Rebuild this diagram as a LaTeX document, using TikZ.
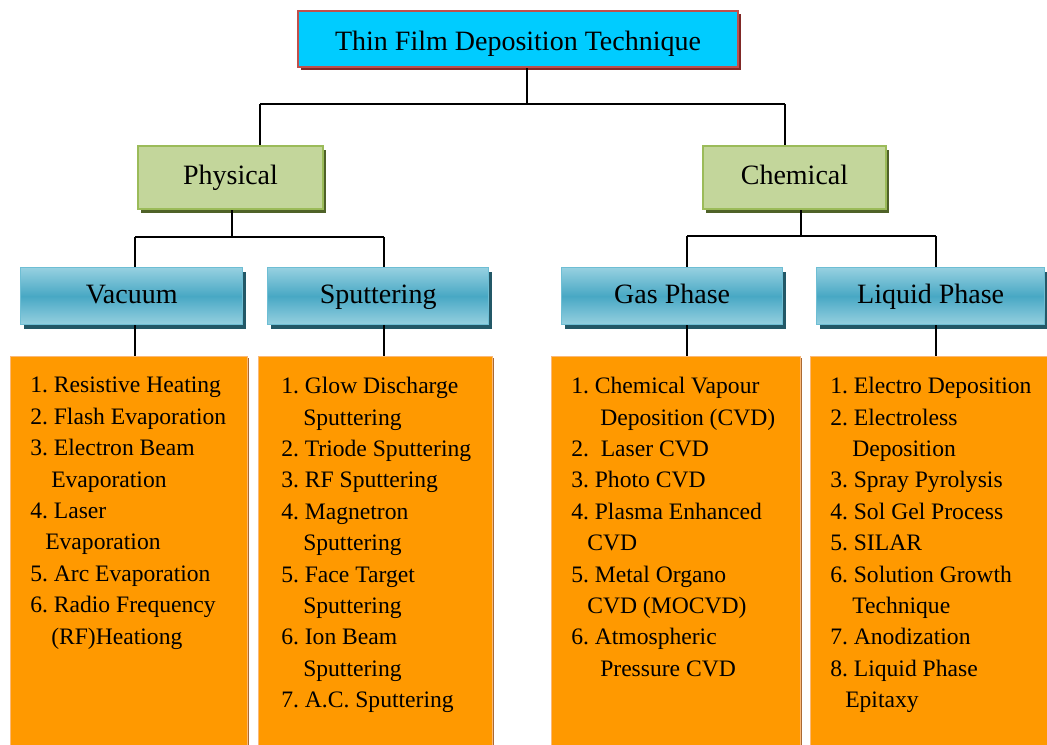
\documentclass[tikz,border=0pt]{standalone}
\usepackage{fontspec}
\setmainfont{Liberation Serif}
\usetikzlibrary{shadows}

\definecolor{titlefill}{RGB}{0,204,255}
\definecolor{titleline}{RGB}{192,80,77}
\definecolor{titleshade}{RGB}{128,40,38}
\definecolor{groupfill}{RGB}{195,214,155}
\definecolor{groupline}{RGB}{155,187,89}
\definecolor{groupshade}{RGB}{79,98,40}
\definecolor{classlight}{RGB}{150,208,224}
\definecolor{classmid}{RGB}{72,168,196}
\definecolor{classline}{RGB}{110,190,212}
\definecolor{classshade}{RGB}{35,88,103}
\definecolor{listfill}{RGB}{255,153,0}
\definecolor{listline}{RGB}{250,185,120}
\definecolor{listshade}{RGB}{170,105,50}

\tikzset{
  titlebox/.style={draw=titleline, line width=1.5pt, fill=titlefill, anchor=north west,
    minimum width=330pt, minimum height=42pt, inner sep=0pt, text height=17pt, text depth=0pt,
    general shadow={fill=titleshade, shadow xshift=2.25pt, shadow yshift=-2.25pt},
    font=\fontsize{21}{25}\selectfont},
  groupbox/.style={draw=groupline, line width=1.5pt, fill=groupfill, anchor=north west,
    minimum height=47.25pt, inner sep=0pt, text height=14pt, text depth=4.25pt,
    general shadow={fill=groupshade, shadow xshift=2.25pt, shadow yshift=-3pt},
    font=\fontsize{21}{25}\selectfont},
  classbox/.style={draw=classline, line width=1pt, top color=classlight, bottom color=classlight,
    middle color=classmid, anchor=north west, minimum height=42.75pt, inner sep=0pt,
    text height=14pt, text depth=2.75pt,
    general shadow={fill=classshade, shadow xshift=2.25pt, shadow yshift=-3pt},
    font=\fontsize{21}{25}\selectfont},
  listbox/.style={draw=listline, line width=0.6pt, fill=listfill, anchor=north west,
    minimum height=300pt, inner sep=0pt,
    general shadow={fill=listshade, shadow xshift=1.5pt, shadow yshift=-1.5pt}},
  listtext/.style={anchor=north west, inner sep=0pt, align=left,
    font=\fontsize{17.7}{23.55}\selectfont\frenchspacing},
  link/.style={line width=1pt},
}

\begin{document}
\begin{tikzpicture}[x=0.75pt,y=0.75pt,yscale=-1,xscale=1]
\useasboundingbox (0,0) rectangle (1047,744);

%Shape: Rectangle
\node [titlebox] (title) at (297,10) {Thin Film Deposition Technique};
%Shape: Rectangle
\node [groupbox, minimum width=138.75pt] (phys) at (137,145) {Physical};
\node [groupbox, minimum width=137.25pt] (chem) at (702,145) {Chemical};
%Shape: Rectangle
\node [classbox, minimum width=166.5pt] (vac) at (20,267) {Vacuum};
\node [classbox, minimum width=165.75pt] (sput) at (267,267) {Sputtering};
\node [classbox, minimum width=165.75pt] (gas) at (561,267) {Gas Phase};
\node [classbox, minimum width=171pt] (liq) at (816,267) {Liquid Phase};
%Shape: Rectangle
\node [listbox, minimum width=177.75pt] (vaclist) at (10,356) {};
\node [listbox, minimum width=175.5pt] (sputlist) at (258,356) {};
\node [listbox, minimum width=186.75pt] (gaslist) at (551,356) {};
\node [listbox, minimum width=182pt] (liqlist) at (810,356) {};

% Text Node
\node [listtext] (vactext) at (30,377) {1. Resistive Heating\\
2. Flash Evaporation\\
3. Electron Beam\\
\hspace*{15.75pt}Evaporation\\
4. Laser\\
\hspace*{11.25pt}Evaporation\\
5. Arc Evaporation\\
6. Radio Frequency\\
\hspace*{15.75pt}(RF)Heationg};
% Text Node
\node [listtext] (sputtext) at (281,377) {1. Glow Discharge\\
\hspace*{16.5pt}Sputtering\\
2. Triode Sputtering\\
3. RF Sputtering\\
4. Magnetron\\
\hspace*{16.5pt}Sputtering\\
5. Face Target\\
\hspace*{16.5pt}Sputtering\\
6. Ion Beam\\
\hspace*{16.5pt}Sputtering\\
7. A.C. Sputtering};
% Text Node
\node [listtext] (gastext) at (571,377) {1. Chemical Vapour\\
\hspace*{21.75pt}Deposition (CVD)\\
2.\ \ Laser CVD\\
3. Photo CVD\\
4. Plasma Enhanced\\
\hspace*{12pt}CVD\\
5. Metal Organo\\
\hspace*{12pt}CVD (MOCVD)\\
6. Atmospheric\\
\hspace*{21.75pt}Pressure CVD};
% Text Node
\node [listtext] (liqtext) at (830,377) {1. Electro Deposition\\
2. Electroless\\
\hspace*{16.5pt}Deposition\\
3. Spray Pyrolysis\\
4. Sol Gel Process\\
5. SILAR\\
6. Solution Growth\\
\hspace*{16.5pt}Technique\\
7. Anodization\\
8. Liquid Phase\\
\hspace*{11.25pt}Epitaxy};

%Straight Lines
\coordinate (tj) at (527,104);
\coordinate (pj) at (260,104);
\coordinate (cj) at (785,104);
\draw [link] (title.south -| tj) -- (tj);
\draw [link, line width=1.8pt] (pj) -- (cj);
\draw [link] (pj) -- (pj |- phys.north);
\draw [link] (cj) -- (cj |- chem.north);

%Straight Lines
\coordinate (pm) at (232,237);
\coordinate (pl) at (135,237);
\coordinate (pr) at (384,237);
\draw [link] (pm |- phys.south) -- (pm);
\draw [link] (pl) -- (pr);
\draw [link] (pl) -- (pl |- vac.north);
\draw [link] (pr) -- (pr |- sput.north);
\draw [link] (pl |- vac.south) -- (pl |- vaclist.north);
\draw [link] (pr |- sput.south) -- (pr |- sputlist.north);

%Straight Lines
\coordinate (cm) at (801,236);
\coordinate (cl) at (687,236);
\coordinate (cr) at (936,236);
\draw [link] (cm |- chem.south) -- (cm);
\draw [link, line width=1.5pt] (cl) -- (cr);
\draw [link] (cl) -- (cl |- gas.north);
\draw [link] (cr) -- (cr |- liq.north);
\draw [link] (cl |- gas.south) -- (cl |- gaslist.north);
\draw [link] (cr |- liq.south) -- (cr |- liqlist.north);

\end{tikzpicture}
\end{document}
